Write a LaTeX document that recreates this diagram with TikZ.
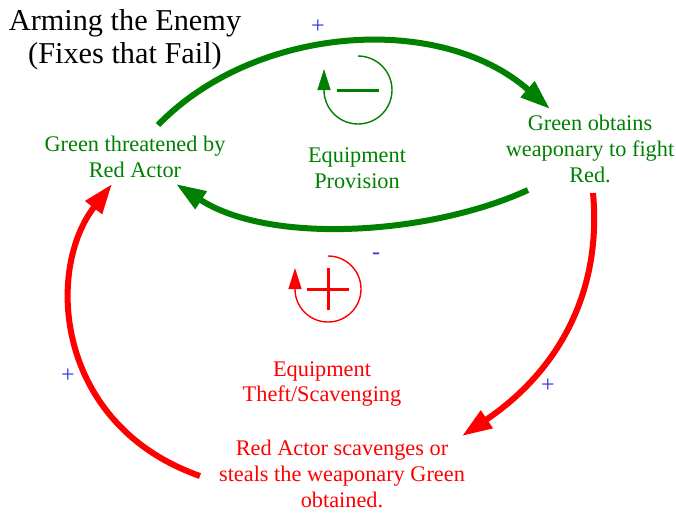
\documentclass[tikz,border=0pt]{standalone}
\usepackage{fontspec}
\setmainfont{Liberation Serif}
\usetikzlibrary{arrows.meta}
\definecolor{cldgreen}{RGB}{0,128,0}
\definecolor{cldred}{RGB}{255,0,0}
\definecolor{cldblue}{RGB}{50,50,235}
\begin{document}
\begin{tikzpicture}[x=1pt,y=-1pt,
  lbl/.style={align=center,inner sep=0pt,font=\fontsize{22.3}{25.7}\selectfont},
  greenlbl/.style={lbl,text=cldgreen},
  redlbl/.style={lbl,text=cldred},
  sign/.style={text=cldblue,inner sep=0pt,font=\fontsize{24}{24}\selectfont},
  mainlink/.style={line width=6pt,-{Triangle[length=30pt,width=20pt]}},
  loopring/.style={line width=1.4pt,-{Triangle[length=21pt,width=13pt]}},
  loopmark/.style={line width=3pt}
]
\useasboundingbox (0,0) rectangle (676,512);
% title
\node[align=center,inner sep=0pt,font=\fontsize{30.3}{33}\selectfont] (title) at (125,40) {Arming the Enemy\\(Fixes that Fail)};
% variables
\node[greenlbl] (gt) at (135,157) {Green threatened by\\Red Actor};
\node[greenlbl] (go) at (590,149) {Green obtains\\weaponary to fight\\Red.};
\node[redlbl] (rs) at (342,474) {Red Actor scavenges or\\steals the weaponary Green\\obtained.};
% loop labels
\node[greenlbl] (prov) at (357,168) {Equipment\\Provision};
\node[redlbl] (theft) at (322,384) {Equipment\\Theft/Scavenging};
% connector ends
\coordinate (g1s) at (158,125);
\coordinate (g1e) at (550,109);
\coordinate (g2s) at (528,190);
\coordinate (g2e) at (176,184);
\coordinate (r1s) at (593,193);
\coordinate (r1e) at (462,436);
\coordinate (r2s) at (200,476);
\coordinate (r2e) at (112,184);
% links
\draw[mainlink,cldgreen] (g1s) .. controls (255,25) and (440,12) .. (g1e);
\draw[mainlink,cldgreen] (g2s) .. controls (430,235) and (270,245) .. (g2e);
\draw[mainlink,cldred] (r1s) .. controls (602,290) and (560,370) .. (r1e);
\draw[mainlink,cldred] (r2s) .. controls (55,425) and (45,270) .. (r2e);
% polarity signs
\node[sign] (p1) at (318,27) {+};
\node[sign] (p2) at (376,256) {-};
\node[sign] (p3) at (68,376) {+};
\node[sign] (p4) at (548,386) {+};
% loop markers
\coordinate (gc) at (358,90);
\draw[loopring,cldgreen] (358,56) arc[start angle=-90,end angle=180,radius=34] -- ++(0,-21);
\draw[loopmark,cldgreen] (337,90) -- (379,90);
\coordinate (rc) at (328,289);
\draw[loopring,cldred] (328,256) arc[start angle=-90,end angle=180,radius=33] -- ++(0,-21);
\draw[loopmark,cldred] (307,289) -- (349,289);
\draw[loopmark,cldred] (328,268) -- (328,310);
\end{tikzpicture}
\end{document}
